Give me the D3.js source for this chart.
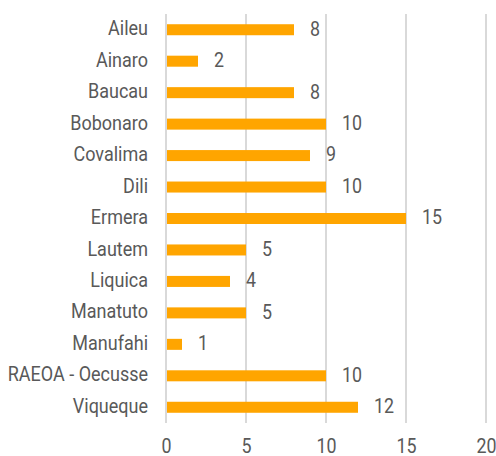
<!DOCTYPE html>
<html>
<head>
<meta charset="utf-8">
<script src="https://cdn.jsdelivr.net/npm/d3@7"></script>
<style>
  body { margin: 0; background: #fff; }
  text { font-family: Roboto, "Noto Sans", sans-serif; fill: #595959; }
</style>
</head>
<body>
<div id="chart"></div>
<script>
// Data
var categories = ["Aileu", "Ainaro", "Baucau", "Bobonaro", "Covalima", "Dili", "Ermera",
    "Lautem", "Liquica", "Manatuto", "Manufahi", "RAEOA - Oecusse", "Viqueque"];
var values = [8, 2, 8, 10, 9, 10, 15, 5, 4, 5, 1, 10, 12];
var xTicks = [0, 5, 10, 15, 20];

var data = categories.map(function (c, i) { return { name: c, value: values[i] }; });

// Narrow text look (the original font is a condensed face)
var catScale = 0.9, numScale = 0.85;

// Set up the width and height of the chart
var margin = { top: 14, right: 10, bottom: 33, left: 166 },
    width = 496 - margin.left - margin.right,
    height = 456 - margin.top - margin.bottom;

var svg = d3.select("#chart")
    .append("svg")
    .attr("width", 496)
    .attr("height", 456)
    .append("g")
    .attr("transform", "translate(" + margin.left + "," + margin.top + ")");

// x scale: 0..20 across 320px
var x = d3.scaleLinear()
    .domain([0, 20])
    .range([0, 320]);

var y = d3.scaleBand()
    .domain(categories)
    .range([0, height])
    .paddingInner(0.65)
    .paddingOuter(0.325);

// Vertical gridlines
svg.selectAll(".grid")
    .data(xTicks)
    .enter()
    .append("line")
    .attr("class", "grid")
    .attr("x1", function (d) { return x(d); })
    .attr("x2", function (d) { return x(d); })
    .attr("y1", 0)
    .attr("y2", height)
    .style("stroke", "#d9d9d9")
    .style("stroke-width", 2);

// x axis labels
var xAxis = svg.append("g")
    .attr("transform", "translate(0," + height + ")")
    .call(d3.axisBottom(x).tickValues(xTicks).tickSize(0));
xAxis.select(".domain").remove();
xAxis.selectAll("text")
    .style("font-size", "21px")
    .attr("y", 30.5)
    .attr("dy", null)
    .attr("transform", "scale(" + numScale + ",1)")
    .attr("fill", "#595959");

// y axis labels
var yAxis = svg.append("g")
    .call(d3.axisLeft(y).tickSize(0));
yAxis.select(".domain").remove();
yAxis.selectAll("text")
    .style("font-size", "20px")
    .attr("x", -18 / catScale)
    .attr("dy", "0.28em")
    .attr("transform", "scale(" + catScale + ",1)")
    .attr("fill", "#595959");

// Bars
svg.selectAll(".bar")
    .data(data)
    .enter()
    .append("rect")
    .attr("class", "bar")
    .attr("x", x(0) + 1)
    .attr("y", function (d) { return y(d.name); })
    .attr("width", function (d) { return x(d.value) - x(0) - 1; })
    .attr("height", y.bandwidth())
    .style("fill", "#ffa500");

// Value labels
svg.selectAll(".label")
    .data(data)
    .enter()
    .append("text")
    .attr("class", "label")
    .attr("transform", function (d) {
        return "translate(" + (x(d.value) + 16) + "," + (y(d.name) + y.bandwidth() / 2) + ") scale(" + numScale + ",1)";
    })
    .attr("dy", "0.28em")
    .style("font-size", "21px")
    .text(function (d) { return d.value; });
</script>
</body>
</html>
